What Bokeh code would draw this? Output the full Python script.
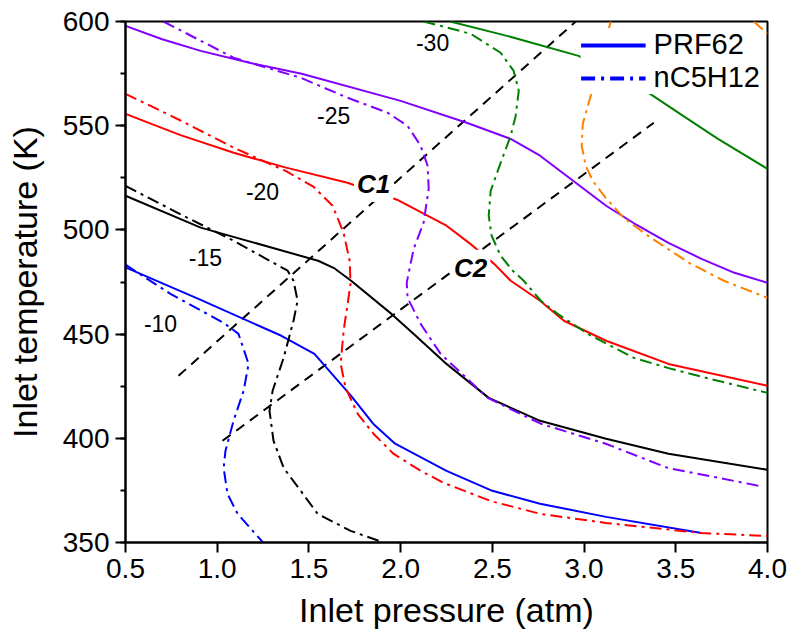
from bokeh.plotting import figure
from bokeh.models import (Range1d, Label, Legend, LegendItem,
                          SingleIntervalTicker, PrintfTickFormatter)
from bokeh.embed import file_html
from bokeh.resources import INLINE

FONT = "Liberation Sans"

# ---- iso-contours, PRF62 (solid) ----
prf_m10_p = [0.50, 0.91, 1.35, 1.53, 1.73, 1.85, 1.97, 2.25, 2.50, 2.76, 3.12, 3.64]
prf_m10_T = [482.0, 466.4, 449.2, 440.5, 420.4, 407.0, 397.4, 384.4, 374.8, 368.6, 362.3, 354.6]

prf_m15_p = [0.50, 0.91, 1.55, 1.64, 1.73, 1.95, 2.07, 2.25, 2.48, 2.76, 3.12, 3.46, 4.00]
prf_m15_T = [516.4, 501.1, 485.2, 481.5, 475.6, 459.7, 450.2, 435.7, 419.4, 408.4, 399.8, 392.6, 384.9]

prf_m20_p = [0.50, 0.80, 1.09, 1.37, 1.71, 1.98, 2.25, 2.38, 2.51, 2.60, 2.76, 2.89, 3.12, 3.46, 4.00]
prf_m20_T = [555.7, 545.5, 537.0, 530.0, 522.6, 514.5, 502.0, 493.3, 483.7, 475.6, 466.0, 456.4, 446.8, 435.7, 425.2]

prf_m25_p = [0.50, 0.70, 0.91, 1.17, 1.46, 2.00, 2.36, 2.60, 2.76, 2.94, 3.12, 3.27, 3.46, 3.64, 3.82, 4.00]
prf_m25_T = [597.9, 591.5, 585.9, 580.3, 574.9, 561.9, 551.4, 543.7, 535.6, 523.6, 511.6, 503.3, 493.8, 486.1, 479.4, 474.6]

prf_m30_p = [2.27, 2.58, 2.97, 3.36, 3.54, 3.73, 4.00]
prf_m30_T = [600.0, 593.1, 583.5, 565.3, 554.7, 543.7, 529.3]

# ---- iso-contours, nC5H12 (dash-dot) ----
pen_m10_p = [0.50, 0.745, 1.035, 1.116, 1.171, 1.144, 1.089, 1.045, 1.035, 1.056, 1.111, 1.25]
pen_m10_T = [483.3, 469.3, 455.4, 450.1, 435.7, 422.8, 408.4, 394.0, 385.8, 373.3, 363.8, 350.0]

pen_m15_p = [0.50, 0.838, 1.089, 1.384, 1.416, 1.438, 1.416, 1.362, 1.302, 1.285, 1.307, 1.362, 1.455, 1.547, 1.727, 1.907]
pen_m15_T = [521.1, 505.8, 494.8, 480.4, 475.6, 466.0, 456.4, 438.6, 422.8, 413.2, 398.8, 385.8, 374.8, 363.8, 355.6, 350.0]

pen_m20_p = [0.50, 0.80, 1.089, 1.373, 1.526, 1.629, 1.689, 1.722, 1.727, 1.689, 1.673, 1.70, 1.766, 1.853, 1.962, 2.109, 2.235, 2.491, 2.764, 3.118, 3.636, 4.00]
pen_m20_T = [565.3, 552.5, 539.5, 528.3, 520.6, 511.6, 498.6, 485.2, 474.1, 451.6, 435.7, 424.2, 411.7, 402.1, 392.5, 384.4, 378.6, 369.9, 363.7, 359.4, 354.6, 353.1]

pen_m25_p = [0.707, 1.089, 1.455, 1.711, 1.929, 2.038, 2.109, 2.147, 2.153, 2.125, 2.071, 2.033, 2.038, 2.109, 2.218, 2.475, 2.764, 3.118, 3.456, 3.953]
pen_m25_T = [600.0, 582.6, 573.0, 563.4, 556.2, 549.9, 540.4, 530.8, 519.7, 503.4, 490.9, 474.6, 467.4, 454.9, 440.5, 419.4, 407.0, 397.4, 385.8, 377.2]

pen_m30_p = [2.125, 2.382, 2.545, 2.616, 2.644, 2.627, 2.60, 2.545, 2.491, 2.48, 2.496, 2.545, 2.611, 2.671, 2.764, 2.856, 3.02, 3.271, 3.456, 3.729, 4.00]
pen_m30_T = [600.0, 594.1, 585.0, 576.3, 566.7, 554.7, 545.2, 532.2, 518.8, 506.8, 497.2, 487.6, 480.4, 475.6, 466.0, 459.7, 450.1, 438.6, 433.8, 427.6, 421.8]

pen_m35_p = [3.146, 3.091, 3.036, 2.993, 2.987, 3.009, 3.047, 3.118, 3.216, 3.364, 3.582, 3.762, 4.00]
pen_m35_T = [600.0, 583.5, 564.3, 550.9, 540.4, 530.8, 523.6, 515.4, 505.8, 496.2, 483.7, 475.6, 467.4]

pen_m40_p = [3.925, 4.00]
pen_m40_T = [600.0, 594.1]

# ---- reference paths C1 and C2 ----
c1_p = [0.789, 2.955]
c1_T = [430.0, 600.0]
c2_p = [1.029, 3.380]
c2_T = [398.8, 551.4]

# ---- contour value labels ----
lab_text = ["-10", "-15", "-20", "-25", "-30"]
lab_p = [0.691, 0.936, 1.247, 1.635, 2.174]
lab_T = [454.9, 486.6, 518.3, 554.7, 589.8]

path_text = ["C1", "C2"]
path_p = [1.853, 2.382]
path_T = [522.0, 481.8]

SOLID_W = 2
DASHDOT = "12 5 3 5"
BLUE, RED, PURPLE, GREEN, ORANGE = "#0000FF", "#FF0000", "#8000FF", "#008000", "#FF8000"

p = figure(width=788, height=634, output_backend="svg", toolbar_location=None,
           x_range=Range1d(0.5, 4.0), y_range=Range1d(350, 600),
           min_border_left=125, min_border_right=21,
           min_border_top=21, min_border_bottom=92)
p.grid.visible = False
p.outline_line_color = "black"
p.outline_line_width = 2
p.background_fill_color = "white"
p.border_fill_color = "white"

p.xaxis.ticker = SingleIntervalTicker(interval=0.5, num_minor_ticks=0)
p.yaxis.ticker = SingleIntervalTicker(interval=50, num_minor_ticks=2)
p.xaxis.formatter = PrintfTickFormatter(format="%.1f")
for ax in (p.xaxis[0], p.yaxis[0]):
    ax.axis_line_width = 2
    ax.major_tick_line_width = 2
    ax.minor_tick_line_width = 2
    ax.major_tick_in = 0
    ax.major_tick_out = 10
    ax.minor_tick_in = 0
    ax.minor_tick_out = 5
    ax.major_label_text_font = FONT
    ax.major_label_text_font_size = "28px"
    ax.major_label_text_color = "black"
    ax.major_label_standoff = 6
    ax.axis_label_text_font = FONT
    ax.axis_label_text_font_size = "34px"
    ax.axis_label_text_font_style = "normal"
    ax.axis_label_text_color = "black"
p.xaxis.axis_label = "Inlet pressure (atm)"
p.yaxis.axis_label = "Inlet temperature (K)"
p.xaxis.axis_label_standoff = 10
p.yaxis.axis_label_standoff = 16

# reference paths
p.line(c1_p, c1_T, color="black", line_width=2, line_dash="10 7")
p.line(c2_p, c2_T, color="black", line_width=2, line_dash="10 7")

# PRF62
p.line(prf_m10_p, prf_m10_T, color=BLUE, line_width=SOLID_W)
p.line(prf_m15_p, prf_m15_T, color="black", line_width=SOLID_W)
p.line(prf_m20_p, prf_m20_T, color=RED, line_width=SOLID_W)
p.line(prf_m25_p, prf_m25_T, color=PURPLE, line_width=SOLID_W)
p.line(prf_m30_p, prf_m30_T, color=GREEN, line_width=SOLID_W)

# nC5H12
p.line(pen_m10_p, pen_m10_T, color=BLUE, line_width=SOLID_W, line_dash=DASHDOT)
p.line(pen_m15_p, pen_m15_T, color="black", line_width=SOLID_W, line_dash=DASHDOT)
p.line(pen_m20_p, pen_m20_T, color=RED, line_width=SOLID_W, line_dash=DASHDOT)
p.line(pen_m25_p, pen_m25_T, color=PURPLE, line_width=SOLID_W, line_dash=DASHDOT)
p.line(pen_m30_p, pen_m30_T, color=GREEN, line_width=SOLID_W, line_dash=DASHDOT)
p.line(pen_m35_p, pen_m35_T, color=ORANGE, line_width=SOLID_W, line_dash=DASHDOT)
p.line(pen_m40_p, pen_m40_T, color=ORANGE, line_width=SOLID_W, line_dash=DASHDOT)

for t, x, y in zip(lab_text, lab_p, lab_T):
    p.add_layout(Label(x=x, y=y, text=t, text_align="center", text_baseline="middle",
                       text_font=FONT, text_font_size="23px", text_color="black"))

for t, x, y in zip(path_text, path_p, path_T):
    p.add_layout(Label(x=x, y=y, text=t, text_align="center", text_baseline="middle",
                       text_font=FONT, text_font_size="26px", text_font_style="bold italic",
                       text_color="black", background_fill_color="white", padding=3))

# legend swatches: heavier hidden copies of the -10 contours
leg_solid = p.line(prf_m10_p, prf_m10_T, color=BLUE, line_width=4, visible=False)
leg_dd = p.line(pen_m10_p, pen_m10_T, color=BLUE, line_width=4,
                line_dash="14 6 3 6", visible=False)
legend = Legend(items=[LegendItem(label="PRF62", renderers=[leg_solid]),
                       LegendItem(label="nC5H12", renderers=[leg_dd])],
                location="top_right", margin=7, padding=4, spacing=0,
                glyph_width=65, glyph_height=32, label_height=32, label_standoff=8,
                label_text_font=FONT, label_text_font_size="29px",
                label_text_color="black",
                border_line_color=None, background_fill_color="white",
                background_fill_alpha=1.0)
p.add_layout(legend)

open("out.html", "w").write(file_html(p, INLINE))
